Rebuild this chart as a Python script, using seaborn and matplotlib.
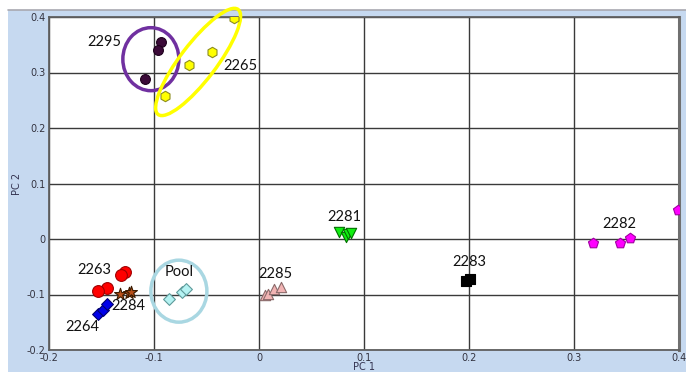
import matplotlib
matplotlib.use("Agg")
import matplotlib.pyplot as plt
import seaborn as sns
import pandas as pd
from matplotlib.patches import Ellipse, Rectangle
from matplotlib.transforms import ScaledTranslation
from matplotlib.lines import Line2D

# ---------------- data ----------------
g2295_x = [-0.0935, -0.0964, -0.109]
g2295_y = [0.355, 0.341, 0.288]
g2265_x = [-0.0897, -0.0668, -0.0448, -0.0239]
g2265_y = [0.258, 0.313, 0.337, 0.398]
g2263_x = [-0.128, -0.131, -0.145, -0.153]
g2263_y = [-0.0595, -0.064, -0.089, -0.094]
g2284_x = [-0.132, -0.1235, -0.1215]
g2284_y = [-0.099, -0.0965, -0.095]
g2264_x = [-0.153, -0.1486, -0.1444]
g2264_y = [-0.135, -0.128, -0.118]
pool_x = [-0.0856, -0.0732, -0.0700]
pool_y = [-0.1075, -0.095, -0.0906]
g2285_x = [0.0057, 0.0089, 0.0146, 0.021]
g2285_y = [-0.101, -0.0997, -0.090, -0.0865]
g2281_x = [0.0766, 0.083, 0.085, 0.088]
g2281_y = [0.012, 0.004, 0.009, 0.011]
g2283_x = [0.197, 0.2007]
g2283_y = [-0.0757, -0.0715]
g2282_x = [0.318, 0.344, 0.353, 0.399]
g2282_y = [-0.0066, -0.0066, 0.0024, 0.0517]

groups = ["2295", "2265", "2263", "2284", "2264", "Pool", "2285", "2281", "2283", "2282"]
xs = [g2295_x, g2265_x, g2263_x, g2284_x, g2264_x, pool_x, g2285_x, g2281_x, g2283_x, g2282_x]
ys = [g2295_y, g2265_y, g2263_y, g2284_y, g2264_y, pool_y, g2285_y, g2281_y, g2283_y, g2282_y]

# label positions (data units)
label_x = [-0.147, -0.018, -0.157, -0.124, -0.168, -0.076, 0.016, 0.081, 0.200, 0.3435]
label_y = [0.355, 0.312, -0.056, -0.120, -0.159, -0.059, -0.063, 0.040, -0.041, 0.027]

tick_vals = [-0.2, -0.1, 0.0, 0.1, 0.2, 0.3, 0.4]
tick_labels = ["-0.2", "-0.1", "0", "0.1", "0.2", "0.3", "0.4"]

# ---------------- styles ----------------
style = {
    "2295": dict(marker="o", color="#3b0a38", edgecolor="#1e001c", s=50),
    "2265": dict(marker="h", color="#ffff00", edgecolor="#8c8c20", s=56),
    "2263": dict(marker="o", color="#ff0000", edgecolor="#a00000", s=72),
    "2284": dict(marker="*", color="#b8501a", edgecolor="#3a1a00", s=80),
    "2264": dict(marker="D", color="#0000e8", edgecolor="#000070", s=36),
    "Pool": dict(marker="D", color="#b4f2f2", edgecolor="#5e9a9a", s=36),
    "2285": dict(marker="^", color="#f2b4b4", edgecolor="#8a6a6a", s=55),
    "2281": dict(marker="v", color="#11ee11", edgecolor="#007000", s=55),
    "2283": dict(marker="s", color="#000000", edgecolor="#000000", s=58),
    "2282": dict(marker="p", color="#ff00ff", edgecolor="#a000a0", s=58),
}

rows = []
for g, gx, gy in zip(groups, xs, ys):
    for a, b in zip(gx, gy):
        rows.append({"group": g, "PC1": a, "PC2": b})
df = pd.DataFrame(rows)

sns.set_style("white")
plt.rcParams["font.family"] = ["DejaVu Sans"]

fig = plt.figure(figsize=(6.86, 3.72), dpi=100, facecolor="white")
# light blue panel
fig.patches.append(Rectangle((8 / 686, 0), 1 - 8 / 686, 362 / 372, transform=fig.transFigure,
                             facecolor="#c6d9f0", edgecolor="none", zorder=-2))
fig.lines.append(Line2D([8 / 686, 1], [362 / 372, 362 / 372], transform=fig.transFigure,
                        color="#a8a8b0", lw=1.2, zorder=-1))

ax = fig.add_axes([49 / 686, 1 - 350 / 372, 630 / 686, 333 / 372])
ax.set_zorder(3)
ax.set_facecolor("white")

for g in groups:
    sub = df[df["group"] == g]
    st = style[g]
    sns.scatterplot(data=sub, x="PC1", y="PC2", ax=ax, marker=st["marker"], color=st["color"],
                    edgecolor=st["edgecolor"], linewidth=0.8, s=st["s"], zorder=5, legend=False,
                    clip_on=True)

for g, lx, ly in zip(groups, label_x, label_y):
    ax.text(lx, ly, g, ha="center", va="center", fontsize=10.5, family=["Lato", "DejaVu Sans"],
            color="#111111", zorder=6)

# ellipses (sizes in pixels -> inches at dpi 100)
def add_ellipse(cx, cy, w_px, h_px, angle, color):
    tr = fig.dpi_scale_trans + ScaledTranslation(cx, cy, ax.transData)
    e = Ellipse((0, 0), w_px / 100, h_px / 100, angle=angle, transform=tr,
                facecolor="none", edgecolor=color, lw=2.5, zorder=4, clip_on=False)
    ax.add_patch(e)

add_ellipse(-0.103, 0.324, 56, 63, 0, "#7030a0")
add_ellipse(-0.058, 0.319, 132, 36, 52.7, "#ffff00")
add_ellipse(-0.0763, -0.094, 56, 62, 0, "#a9d7e2")

ax.set_xlim(-0.2, 0.4)
ax.set_ylim(-0.2, 0.4)
ax.set_xticks(tick_vals)
ax.set_xticklabels(tick_labels)
ax.set_yticks(tick_vals)
ax.set_yticklabels(tick_labels)
ax.tick_params(axis="both", length=0, labelsize=7, labelcolor="#333340", pad=2.5)
ax.grid(True, color="#3a3a3a", lw=1.0, zorder=1)
ax.set_axisbelow(True)
for side, sp in ax.spines.items():
    sp.set_color("#606060")
    sp.set_linewidth(1.3)
ax.spines["right"].set_linewidth(2.2)
ax.spines["right"].set_color("#707070")

ax.set_xlabel("PC 1", fontsize=7, color="#333350")
ax.set_ylabel("PC 2", fontsize=7, color="#333350")
ax.xaxis.set_label_coords(0.5, -0.036)
ax.yaxis.set_label_coords(-0.043, 0.5)

fig.savefig("out.png", dpi=100, facecolor="white")
